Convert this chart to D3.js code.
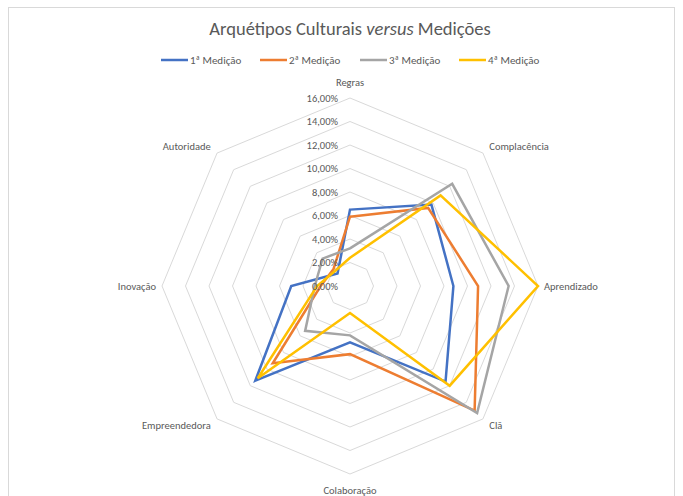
<!DOCTYPE html>
<html><head><meta charset="utf-8">
<script src="https://cdn.jsdelivr.net/npm/d3@7"></script>
<style>
html,body{margin:0;padding:0;background:#fff;}
svg text{font-family:Calibri,Carlito,Lato,"Open Sans",sans-serif;fill:#595959;}
</style></head>
<body>
<svg id="chart" width="683" height="496"></svg>
<script>
const categories = ["Regras","Complacência","Aprendizado","Clã","Colaboração","Empreendedora","Inovação","Autoridade"];
const seriesNames = ["1ª Medição","2ª Medição","3ª Medição","4ª Medição"];
const med1 = [6.5, 9.8, 8.8, 11.5, 4.8, 11.4, 5.0, 1.5];
const med2 = [5.9, 9.4, 10.9, 15.0, 5.8, 9.3, 2.5, 2.0];
const med3 = [3.2, 12.3, 13.5, 15.3, 4.2, 5.4, 3.0, 3.3];
const med4 = [2.4, 10.9, 16.0, 12.0, 2.3, 11.1, 2.8, 1.8];
const tickValues = [0,2,4,6,8,10,12,14,16];
const colors = ["#4472C4","#ED7D31","#A5A5A5","#FFC000"];
const allSeries = [med1, med2, med3, med4];

const svg = d3.select("#chart");
const cx = 350, cy = 286, R = 188;
const r = d3.scaleLinear().domain([0,16]).range([0,R]);
const ang = d3.scalePoint().domain(categories).range([0, 2*Math.PI*(categories.length-1)/categories.length]);
const fmt = v => d3.format(".2f")(v).replace(".", ",") + "%";

// frame
svg.append("rect").attr("x",8.5).attr("y",7.5).attr("width",666).attr("height",520)
  .attr("fill","none").attr("stroke","#D9D9D9").attr("stroke-width",1);

// title
const title = svg.append("text").attr("x",350).attr("y",35).attr("text-anchor","middle")
  .attr("font-size",18.5);
title.append("tspan").text("Arquétipos Culturais ");
title.append("tspan").attr("font-style","italic").text("versus");
title.append("tspan").text(" Medições");

// legend
const legX = [161, 260, 360, 459];
const lg = svg.append("g");
seriesNames.forEach((n,i)=>{
  lg.append("line").attr("x1",legX[i]).attr("x2",legX[i]+27).attr("y1",60).attr("y2",60)
    .attr("stroke",colors[i]).attr("stroke-width",2.5);
  lg.append("text").attr("x",legX[i]+29).attr("y",63.5).attr("font-size",11).text(n);
});

const g = svg.append("g").attr("transform",`translate(${cx},${cy})`);

// grid octagons
tickValues.filter(t=>t>0).forEach(t=>{
  const pts = categories.map(c=>{
    const a = ang(c);
    return [Math.sin(a)*r(t), -Math.cos(a)*r(t)];
  });
  g.append("polygon").attr("points", pts.map(p=>p.join(",")).join(" "))
    .attr("fill","none").attr("stroke","#D9D9D9").attr("stroke-width",1);
});

// series lines
const line = d3.lineRadial().angle((d,i)=>ang(categories[i])).radius(d=>r(d)).curve(d3.curveLinearClosed);
allSeries.forEach((s,i)=>{
  g.append("path").attr("d", line(s)).attr("fill","none")
    .attr("stroke",colors[i]).attr("stroke-width",2.5).attr("stroke-linejoin","miter");
});

// tick labels
tickValues.forEach(t=>{
  g.append("text").attr("x",-12).attr("y",-r(t)+3.5).attr("text-anchor","end")
    .attr("font-size",10.5).text(fmt(t));
});

// category labels
categories.forEach(c=>{
  const a = ang(c);
  const s = Math.sin(a), co = -Math.cos(a);
  let x = s*(R+9), y = co*(R+9);
  let anchor = Math.abs(s)<0.01 ? "middle" : (s>0 ? "start" : "end");
  if (Math.abs(s)<0.01) { y = co>0 ? R+20 : -R-12; }
  else if (Math.abs(co)<0.01) { y = 3.5; x = s*(R+6); }
  else { y = co*(R+9) + 3.5; }
  g.append("text").attr("x",x).attr("y",y).attr("text-anchor",anchor)
    .attr("font-size",10.5).text(c);
});
</script>
</body></html>
